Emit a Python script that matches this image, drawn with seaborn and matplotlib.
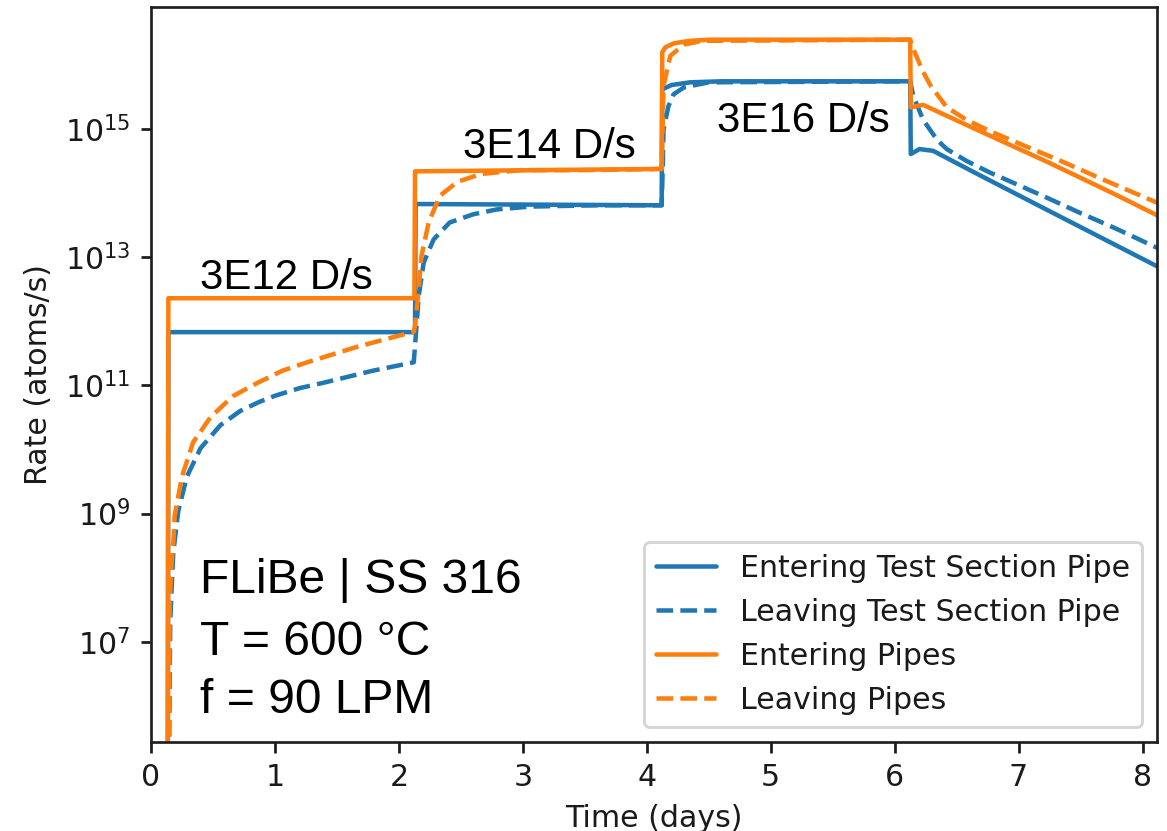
import matplotlib
matplotlib.use("Agg")
import matplotlib.pyplot as plt
import seaborn as sns
import pandas as pd
from matplotlib.ticker import FixedLocator, NullLocator, LogFormatterSciNotation

# ---- data: time in days, deuterium rate in atoms/s ----
ts_enter_t = [0.135, 0.14, 2.13, 2.135, 4.12, 4.125, 4.2, 4.35, 4.6, 6.125, 6.13,
              6.2, 6.31, 6.69, 7.23, 7.77, 8.12]
ts_enter_rate = [1e4, 6.8e11, 6.8e11, 6.8e13, 6.5e13, 4.2e15, 4.9e15, 5.4e15, 5.6e15,
                 5.6e15, 4.1e14, 4.9e14, 4.6e14, 1.9e14, 5.5e13, 1.6e13, 7.2e12]

ts_leave_t = [0.14, 0.155, 0.17, 0.18, 0.22, 0.29, 0.40, 0.56, 0.72, 0.87, 1.0, 1.2,
              1.39, 1.79, 2.12, 2.14, 2.16, 2.20, 2.28, 2.41, 2.60, 2.79, 3.06, 3.6,
              4.12, 4.13, 4.135, 4.175, 4.215, 4.30, 4.5, 6.125, 6.15, 6.23, 6.34, 6.42,
              6.58, 6.77, 6.96, 7.23, 7.5, 7.77, 8.12]
ts_leave_rate = [1e4, 2.0e7, 1.0e8, 2.5e8, 1.1e9, 3.8e9, 1.05e10, 2.4e10, 4.0e10,
                 5.5e10, 6.9e10, 9.1e10, 1.1e11, 1.7e11, 2.3e11, 7.5e11, 2.5e12, 8.3e12,
                 1.9e13, 3.5e13, 4.7e13, 5.6e13, 6.2e13, 6.5e13, 6.5e13, 3.2e14, 1.0e15,
                 2.3e15, 3.5e15, 4.5e15, 5.4e15, 5.6e15, 3.3e15, 1.4e15, 6.9e14, 4.9e14,
                 3.2e14, 2.1e14, 1.45e14, 8.5e13, 4.9e13, 2.9e13, 1.4e13]

pipes_enter_t = [0.135, 0.14, 2.125, 2.13, 4.12, 4.125, 4.15, 4.22, 4.35, 4.5, 6.125,
                 6.13, 6.23, 6.69, 7.23, 7.77, 8.12]
pipes_enter_rate = [1e4, 2.3e12, 2.3e12, 2.2e14, 2.4e14, 1.6e16, 1.9e16, 2.2e16, 2.4e16,
                    2.5e16, 2.5e16, 2.2e15, 2.4e15, 9.3e14, 3.1e14, 9.8e13, 4.5e13]

pipes_leave_t = [0.14, 0.15, 0.165, 0.18, 0.19, 0.25, 0.34, 0.48, 0.66, 0.86, 1.06,
                 1.26, 1.66, 2.12, 2.13, 2.16, 2.18, 2.24, 2.33, 2.47, 2.66, 2.98, 3.5,
                 4.12, 4.135, 4.19, 4.30, 4.45, 6.125, 6.15, 6.23, 6.29, 6.42, 6.58, 6.77,
                 6.96, 7.34, 7.71, 8.12]
pipes_leave_rate = [1e4, 4.0e7, 1.6e8, 3.5e8, 9.1e8, 3.8e9, 1.3e10, 3.2e10, 6.8e10,
                    1.1e11, 1.7e11, 2.3e11, 4.0e11, 6.9e11, 8.5e11, 3.2e12, 1.0e13,
                    3.5e13, 9.1e13, 1.5e14, 2.0e14, 2.3e14, 2.3e14, 2.4e14, 4.8e15,
                    1.4e16, 2.1e16, 2.4e16, 2.5e16, 1.8e16, 7.8e15, 4.8e15, 2.2e15,
                    1.4e15, 9.3e14, 6.5e14, 3.2e14, 1.55e14, 7.1e13]

series_labels = ["Entering Test Section Pipe", "Leaving Test Section Pipe",
                 "Entering Pipes", "Leaving Pipes"]

step_labels = ["3E12 D/s", "3E14 D/s", "3E16 D/s"]
step_label_x = [0.395, 2.52, 4.565]
step_label_y = [3.2e12, 3.5e14, 8.9e14]

info_lines = ["FLiBe | SS 316", "T = 600 °C", "f = 90 LPM"]

x_ticks = [0, 1, 2, 3, 4, 5, 6, 7, 8]
y_ticks = [1e7, 1e9, 1e11, 1e13, 1e15]

# ---- style ----
sns.set_style("ticks")
plt.rcParams["font.family"] = ["DejaVu Sans"]
plt.rcParams.update({
    "font.size": 10,
    "axes.edgecolor": "0.12",
    "axes.linewidth": 0.9,
    "xtick.color": "0.1",
    "ytick.color": "0.1",
    "xtick.major.size": 3.5,
    "ytick.major.size": 3.5,
    "xtick.major.width": 0.9,
    "ytick.major.width": 0.9,
    "axes.labelcolor": "0.1",
    "text.color": "0.1",
})

pal = sns.color_palette("tab10")
blue, orange = pal[0], pal[1]

DPI = 216
fig = plt.figure(figsize=(1167 / DPI, 831 / DPI), dpi=DPI)
ax = fig.add_axes([0.1294, 0.1075, 0.8624, 0.8841])

curves = [
    (ts_enter_t, ts_enter_rate, blue, "-"),
    (ts_leave_t, ts_leave_rate, blue, "--"),
    (pipes_enter_t, pipes_enter_rate, orange, "-"),
    (pipes_leave_t, pipes_leave_rate, orange, "--"),
]
for label, (t, r, c, ls) in zip(series_labels, curves):
    df = pd.DataFrame({"Time (days)": t, "Rate": r})
    sns.lineplot(data=df, x="Time (days)", y="Rate", ax=ax, color=c, linestyle=ls,
                 linewidth=1.5, label=label, sort=False, estimator=None)

ax.set_yscale("log")
ax.set_xlim(0, 8.12)
ax.set_ylim(2.75e5, 8.1e16)
ax.xaxis.set_major_locator(FixedLocator(x_ticks))
ax.yaxis.set_major_locator(FixedLocator(y_ticks))
ax.yaxis.set_major_formatter(LogFormatterSciNotation())
ax.yaxis.set_minor_locator(NullLocator())
ax.xaxis.set_minor_locator(NullLocator())
ax.tick_params(labelsize=10)

ax.set_xlabel("Time (days)", fontsize=10)
ax.set_ylabel("Rate (atoms/s)", fontsize=10)

for s, x, y in zip(step_labels, step_label_x, step_label_y):
    ax.text(x, y, s, family="Liberation Sans", fontsize=14, color="black",
            ha="left", va="baseline")

for line, yfrac in zip(info_lines, [0.2024, 0.118, 0.0391]):
    ax.text(0.0488, yfrac, line, transform=ax.transAxes, family="Liberation Sans",
            fontsize=16, color="black", ha="left", va="baseline")

leg = ax.legend(loc="lower right", fontsize=10, frameon=True, framealpha=0.8,
                edgecolor="0.8", fancybox=True, labelspacing=0.5)

fig.savefig("out.png", dpi=DPI)
